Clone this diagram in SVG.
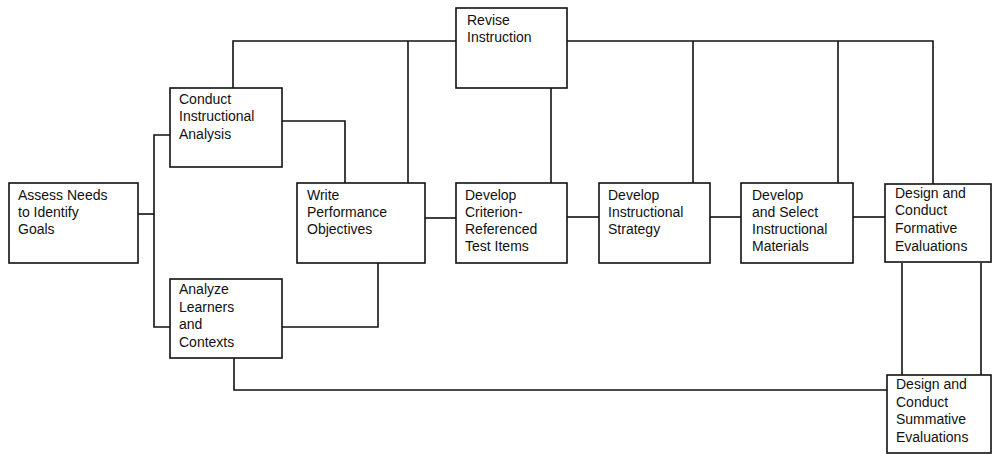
<svg xmlns="http://www.w3.org/2000/svg" width="992" height="454" viewBox="0 0 992 454">
<style>
.box{fill:#fff;stroke:#111;stroke-width:1.6}
.ln{fill:none;stroke:#111;stroke-width:1.6}
text{font-family:"Liberation Sans",Arial,sans-serif;font-size:14px;fill:#111}
</style>
<rect width="992" height="454" fill="#fff"/>
<g id="connectors">
<path class="ln" d="M233,88 V41 H456"/>
<path class="ln" d="M567,41 H933 V184"/>
<path class="ln" d="M408,41 V184"/>
<path class="ln" d="M551,88 V184"/>
<path class="ln" d="M693,41 V184"/>
<path class="ln" d="M838,41 V184"/>
<path class="ln" d="M282,121 H345 V184"/>
<path class="ln" d="M138,214 H154"/>
<path class="ln" d="M170,135 H154 V327 H170"/>
<path class="ln" d="M282,327 H378 V263"/>
<path class="ln" d="M425,218 H456"/>
<path class="ln" d="M567,217 H599"/>
<path class="ln" d="M710,217 H741"/>
<path class="ln" d="M853,217 H885"/>
<path class="ln" d="M234,358 V390 H887"/>
<path class="ln" d="M902,263 V375"/>
<path class="ln" d="M981,263 V375"/>
</g>
<g id="revise">
<rect class="box" x="456" y="8" width="111" height="80"/>
<text x="467"><tspan x="467" y="25">Revise</tspan><tspan x="467" y="42">Instruction</tspan></text>
</g>
<g id="conduct-analysis">
<rect class="box" x="170" y="88" width="112" height="79"/>
<text><tspan x="179" y="104">Conduct</tspan><tspan x="179" y="121">Instructional</tspan><tspan x="179" y="139">Analysis</tspan></text>
</g>
<g id="assess">
<rect class="box" x="9" y="183" width="129" height="80"/>
<text><tspan x="18" y="200">Assess Needs</tspan><tspan x="18" y="217">to Identify</tspan><tspan x="18" y="234">Goals</tspan></text>
</g>
<g id="analyze-learners">
<rect class="box" x="170" y="279" width="112" height="79"/>
<text><tspan x="179" y="294">Analyze</tspan><tspan x="179" y="312">Learners</tspan><tspan x="179" y="329">and</tspan><tspan x="179" y="347">Contexts</tspan></text>
</g>
<g id="write-objectives">
<rect class="box" x="297" y="183" width="128" height="80"/>
<text><tspan x="307" y="200">Write</tspan><tspan x="307" y="217">Performance</tspan><tspan x="307" y="234">Objectives</tspan></text>
</g>
<g id="test-items">
<rect class="box" x="456" y="183" width="111" height="80"/>
<text><tspan x="465" y="200">Develop</tspan><tspan x="465" y="217">Criterion-</tspan><tspan x="465" y="234">Referenced</tspan><tspan x="465" y="251">Test Items</tspan></text>
</g>
<g id="strategy">
<rect class="box" x="599" y="183" width="111" height="80"/>
<text><tspan x="608" y="200">Develop</tspan><tspan x="608" y="217">Instructional</tspan><tspan x="608" y="234">Strategy</tspan></text>
</g>
<g id="materials">
<rect class="box" x="741" y="183" width="112" height="80"/>
<text><tspan x="752" y="200">Develop</tspan><tspan x="752" y="217">and Select</tspan><tspan x="752" y="234">Instructional</tspan><tspan x="752" y="251">Materials</tspan></text>
</g>
<g id="formative">
<rect class="box" x="885" y="184" width="106" height="78"/>
<text><tspan x="895" y="198">Design and</tspan><tspan x="895" y="215">Conduct</tspan><tspan x="895" y="233">Formative</tspan><tspan x="895" y="251">Evaluations</tspan></text>
</g>
<g id="summative">
<rect class="box" x="887" y="375" width="104" height="78"/>
<text><tspan x="896" y="389">Design and</tspan><tspan x="896" y="407">Conduct</tspan><tspan x="896" y="424">Summative</tspan><tspan x="896" y="442">Evaluations</tspan></text>
</g>
</svg>
